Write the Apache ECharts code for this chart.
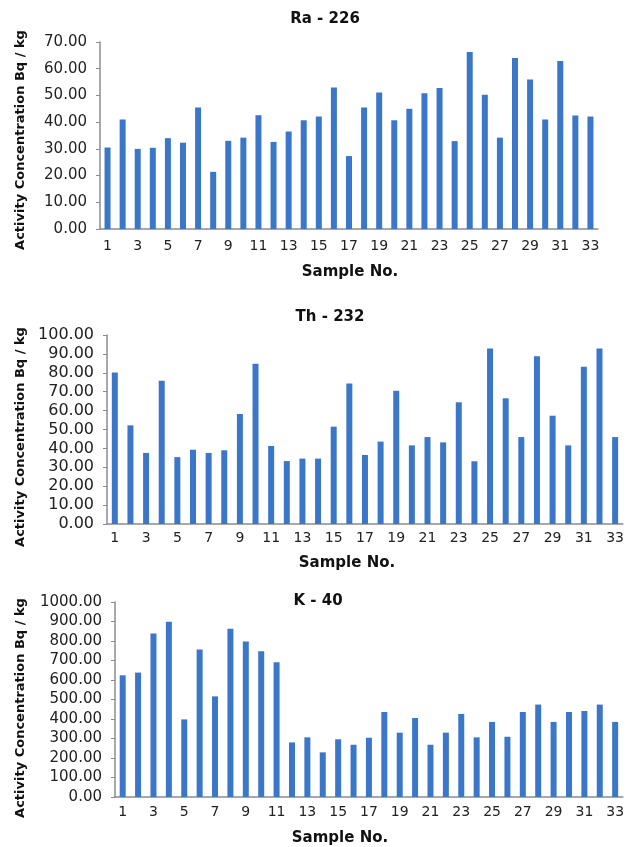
<!DOCTYPE html>
<html>
<head>
<meta charset="utf-8">
<script src="https://cdn.jsdelivr.net/npm/echarts@6/dist/echarts.min.js"></script>
<style>
html,body{margin:0;padding:0;background:#fff;}
#c{width:627px;height:847px;}
</style>
</head>
<body>
<div id="c"></div>
<script>
var samples = [];
for (var i = 1; i <= 33; i++) samples.push(String(i));

var ra226 = [30.5, 41.0, 30.0, 30.4, 34.0, 32.3, 45.5, 21.4, 33.0, 34.2, 42.6, 32.6, 36.5, 40.7, 42.1, 53.0, 27.3,
             45.5, 51.1, 40.7, 45.0, 50.8, 52.8, 32.9, 66.3, 50.3, 34.2, 64.0, 56.0, 41.0, 62.9, 42.5, 42.1];
var th232 = [80.2, 52.2, 37.6, 75.8, 35.4, 39.3, 37.6, 39.0, 58.2, 84.8, 41.3, 33.3, 34.6, 34.6, 51.5, 74.3, 36.5,
             43.6, 70.5, 41.6, 46.0, 43.2, 64.4, 33.2, 92.8, 66.5, 46.0, 88.7, 57.3, 41.6, 83.2, 92.8, 46.0];
var k40 = [624, 638, 838, 899, 398, 757, 516, 863, 798, 747, 691, 280, 306, 229, 296, 268, 304,
           436, 330, 405, 268, 330, 426, 306, 385, 309, 436, 474, 385, 436, 441, 474, 385];

var titles = ['Ra - 226', 'Th - 232', 'K - 40'];
var yMax = [70, 100, 1000];
var yStep = [10, 10, 100];
var xName = 'Sample No.';
var yName = 'Activity Concentration Bq / kg';

var barColor = '#3B77C8';
var axisGray = '#8c8c8c';

var grids = [
  {left: 100, top: 42, width: 498, height: 187},
  {left: 107, top: 335, width: 518, height: 189},
  {left: 115, top: 602, width: 512, height: 195}
];
var yLabelSize = [15, 16, 15];
var xLabelMargin = [10, 7, 8];
var seriesData = [ra226, th232, k40];

var xAxes = [], yAxes = [], series = [];
for (var g = 0; g < 3; g++) {
  xAxes.push({
    type: 'category', gridIndex: g, data: samples,
    axisLine: {lineStyle: {color: axisGray, width: 1.5}},
    axisTick: {show: false},
    axisLabel: {interval: 1, color: '#222', fontSize: 14, fontFamily: 'DejaVu Sans', margin: xLabelMargin[g]}
  });
  yAxes.push({
    type: 'value', gridIndex: g, min: 0, max: yMax[g], interval: yStep[g],
    axisLine: {show: true, lineStyle: {color: axisGray, width: 1.5}},
    axisTick: {show: true, length: 4, lineStyle: {color: axisGray}},
    splitLine: {show: false},
    axisLabel: {color: '#222', fontSize: yLabelSize[g], fontFamily: 'DejaVu Sans', margin: 13,
      formatter: function (v) { return v.toFixed(2); }}
  });
  series.push({
    type: 'bar', xAxisIndex: g, yAxisIndex: g, data: seriesData[g],
    barWidth: 6, itemStyle: {color: barColor}, animation: false
  });
}

var boldFont = 'bold 15px "DejaVu Sans"';
var graphics = [
  {type: 'text', x: 325, y: 19, style: {text: titles[0], font: boldFont, fill: '#111', textAlign: 'center', textVerticalAlign: 'middle'}},
  {type: 'text', x: 330, y: 317, style: {text: titles[1], font: boldFont, fill: '#111', textAlign: 'center', textVerticalAlign: 'middle'}},
  {type: 'text', x: 318, y: 601, style: {text: titles[2], font: boldFont, fill: '#111', textAlign: 'center', textVerticalAlign: 'middle'}},
  {type: 'text', x: 350, y: 272, style: {text: xName, font: boldFont, fill: '#111', textAlign: 'center', textVerticalAlign: 'middle'}},
  {type: 'text', x: 347, y: 563, style: {text: xName, font: boldFont, fill: '#111', textAlign: 'center', textVerticalAlign: 'middle'}},
  {type: 'text', x: 340, y: 838, style: {text: xName, font: boldFont, fill: '#111', textAlign: 'center', textVerticalAlign: 'middle'}},
  {type: 'text', x: 21, y: 140, rotation: Math.PI / 2, style: {text: yName, font: 'bold 13px "DejaVu Sans"', fill: '#111', textAlign: 'center', textVerticalAlign: 'middle'}},
  {type: 'text', x: 21, y: 437, rotation: Math.PI / 2, style: {text: yName, font: 'bold 13px "DejaVu Sans"', fill: '#111', textAlign: 'center', textVerticalAlign: 'middle'}},
  {type: 'text', x: 21, y: 708, rotation: Math.PI / 2, style: {text: yName, font: 'bold 13px "DejaVu Sans"', fill: '#111', textAlign: 'center', textVerticalAlign: 'middle'}}
];

var chart = echarts.init(document.getElementById('c'));
chart.setOption({
  backgroundColor: '#fff',
  animation: false,
  grid: grids,
  xAxis: xAxes,
  yAxis: yAxes,
  series: series,
  graphic: graphics
});
</script>
</body>
</html>
